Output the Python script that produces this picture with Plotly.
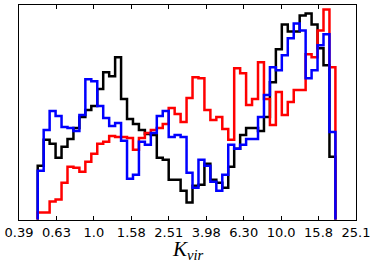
import numpy as np
import plotly.graph_objects as go

# bin edges in log10(K_vir)
log_lo, log_hi, nbins = -0.30, 1.29, 50

black_vals = [54, 80, 76, 62, 73, 81, 92, 103, 110, 114, 131, 148, 144, 163, 121, 101, 96, 90, 86, 85,
              62, 60, 40, 40, 29, 17, 34, 35, 56, 40, 37, 32, 53, 71, 85, 92, 92, 89, 103, 138,
              171, 196, 189, 189, 205, 207, 196, 172, 155, 63]
red_vals = [7, 7, 18, 20, 37, 53, 52, 48, 58, 66, 76, 78, 84, 83, 83, 82, 70, 82, 87, 90,
            92, 96, 112, 106, 98, 122, 143, 142, 110, 100, 103, 91, 80, 152, 147, 115, 121, 158, 121, 95,
            128, 105, 118, 130, 130, 166, 163, 190, 211, 153]
blue_vals = [49, 90, 109, 104, 93, 92, 89, 105, 141, 139, 114, 102, 94, 97, 79, 41, 45, 78, 75, 87,
             104, 109, 83, 85, 83, 47, 32, 60, 54, 38, 29, 45, 75, 71, 75, 81, 81, 103, 125, 153,
             150, 165, 182, 197, 190, 142, 150, 175, 186, 88]

tick_logs = [-0.4, -0.2, 0.0, 0.2, 0.4, 0.6, 0.8, 1.0, 1.2, 1.4]
tick_text = ["0.39", "0.63", "1.0", "1.58", "2.51", "3.98", "6.30", "10.0", "15.8", "25.1"]

edges = 10 ** np.linspace(log_lo, log_hi, nbins + 1)


def step_xy(vals):
    x = [edges[0]] + list(edges[:-1]) + [edges[-1]]
    y = [0] + list(vals) + [0]
    return x, y


fig = go.Figure()
for vals, col in [(black_vals, "#000000"), (red_vals, "#ff0000"), (blue_vals, "#0000ff")]:
    x, y = step_xy(vals)
    fig.add_trace(go.Scatter(x=x, y=y, mode="lines", line=dict(color=col, width=2.5, shape="hv"),
                             showlegend=False, hoverinfo="skip"))

fig.update_xaxes(type="log", range=[-0.4, 1.4], tickvals=[10 ** t for t in tick_logs], ticktext=tick_text,
                 ticks="inside", ticklen=4, tickcolor="black", tickwidth=1,
                 showline=True, linecolor="black", linewidth=1, mirror="ticks",
                 showgrid=False, zeroline=False, automargin=False,
                 tickfont=dict(family="DejaVu Sans", size=13, color="black"))
fig.update_yaxes(range=[-0.5, 215.5], showticklabels=False, ticks="",
                 showline=True, linecolor="black", linewidth=1, mirror=True,
                 showgrid=False, zeroline=False, automargin=False)

fig.add_annotation(text="<i>K</i><sub><i>vir</i></sub>", xref="paper", yref="paper", x=0.5, y=-0.14,
                   xanchor="center", yanchor="middle", showarrow=False,
                   font=dict(family="Liberation Serif", size=21, color="black"))

fig.update_layout(width=374, height=265, margin=dict(l=19, r=17.5, t=5, b=44.5),
                  paper_bgcolor="white", plot_bgcolor="white")

fig.write_html("out.html", config={"displayModeBar": False},
               post_script="document.body.style.margin='0px';")
